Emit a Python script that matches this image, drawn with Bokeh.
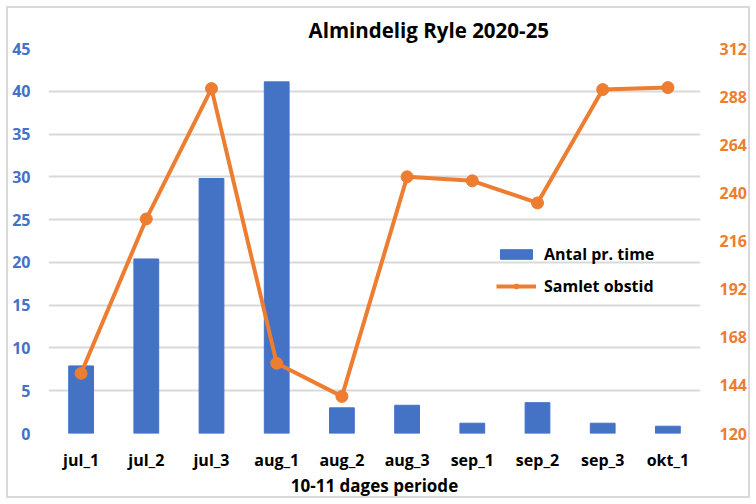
from bokeh.plotting import figure
from bokeh.models import Range1d, LinearAxis, FixedTicker, Legend, LegendItem, FactorRange
from bokeh.embed import file_html
from bokeh.resources import INLINE

categories = ["jul_1", "jul_2", "jul_3", "aug_1", "aug_2", "aug_3", "sep_1", "sep_2", "sep_3", "okt_1"]
antal = [7.9, 20.4, 29.8, 41.1, 3.0, 3.3, 1.2, 3.6, 1.2, 0.85]
obstid = [150, 227, 292, 155, 138.5, 248, 246, 235, 291.5, 292.5]
left_ticks = [0, 5, 10, 15, 20, 25, 30, 35, 40, 45]
right_ticks = [120, 144, 168, 192, 216, 240, 264, 288, 312]

BLUE = "#4472C4"
ORANGE = "#ED7D31"
FONT = "Open Sans"

p = figure(x_range=FactorRange(*categories), y_range=Range1d(0, 45),
           width=756, height=504, output_backend="svg", toolbar_location=None,
           min_border_left=48, min_border_right=56, min_border_top=48, min_border_bottom=71,
           styles={"background-color": "white",
                   "box-shadow": "inset 0 0 0 6px white, inset 0 0 0 8px #D9D9D9"})
p.extra_y_ranges = {"right": Range1d(120, 312)}

p.border_fill_color = None
p.background_fill_color = "white"
p.outline_line_color = None
p.title.text = "Almindelig Ryle 2020-25"
p.title.text_font = FONT
p.title.text_font_size = "20.5px"
p.title.text_font_style = "bold"
p.title.text_color = "black"
p.title.align = "left"
p.title.offset = 260
p.title.standoff = 10

bars = p.vbar(x=categories, top=antal, width=0.38, color=BLUE)
line = p.line(x=categories, y=obstid, line_color=ORANGE, line_width=4, y_range_name="right")
pts = p.scatter(x=categories, y=obstid, size=12, color=ORANGE, y_range_name="right")


def style_axis(ax, color, size, standoff):
    ax.axis_line_color = None
    ax.major_tick_line_color = None
    ax.minor_tick_line_color = None
    ax.major_tick_in = 0
    ax.major_tick_out = 0
    ax.minor_tick_in = 0
    ax.minor_tick_out = 0
    ax.major_label_text_color = color
    ax.major_label_text_font = FONT
    ax.major_label_text_font_style = "bold"
    ax.major_label_text_font_size = size
    ax.major_label_standoff = standoff


ya = p.yaxis[0]
ya.ticker = FixedTicker(ticks=left_ticks)
style_axis(ya, BLUE, "16px", 18)

ra = LinearAxis(y_range_name="right", ticker=FixedTicker(ticks=right_ticks))
style_axis(ra, ORANGE, "16px", 19)
p.add_layout(ra, "right")

xa = p.xaxis[0]
style_axis(xa, "black", "16px", 15)
xa.axis_label = "10-11 dages periode"
xa.axis_label_text_font = FONT
xa.axis_label_text_font_style = "bold"
xa.axis_label_text_font_size = "17px"
xa.axis_label_text_color = "black"
xa.axis_label_standoff = 0

p.xgrid.grid_line_color = None
p.ygrid.grid_line_color = "#D9D9D9"
p.ygrid.grid_line_width = 2

legend = Legend(items=[LegendItem(label="Antal pr. time", renderers=[bars]),
                       LegendItem(label="Samlet obstid", renderers=[line, pts])],
                location=(448, 136), orientation="vertical",
                glyph_width=40, glyph_height=12, label_height=20, spacing=10,
                padding=0, margin=0, border_line_color=None, background_fill_alpha=0,
                label_text_font=FONT, label_text_font_style="bold",
                label_text_font_size="16px", label_text_color="black", label_standoff=8)
p.add_layout(legend, "center")

open("out.html", "w").write(file_html(p, INLINE))
